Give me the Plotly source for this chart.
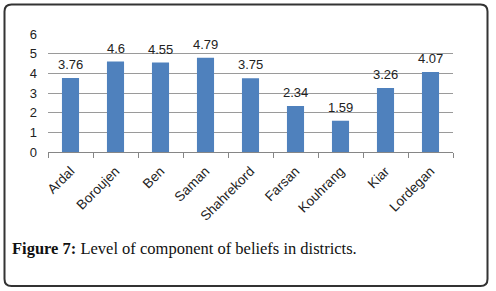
import plotly.graph_objects as go

districts = ["Ardal", "Boroujen", "Ben", "Saman", "Shahrekord", "Farsan", "Kouhrang", "Kiar", "Lordegan"]
values = [3.76, 4.6, 4.55, 4.79, 3.75, 2.34, 1.59, 3.26, 4.07]
labels = ["3.76", "4.6", "4.55", "4.79", "3.75", "2.34", "1.59", "3.26", "4.07"]

W, H = 496, 291
L, R, T, B = 48, 43, 34, 139
pw, ph = W - L - R, H - T - B

def px(x):
    return (x - L) / pw

def py(y):
    return 1 - (y - T) / ph

fig = go.Figure()
fig.add_trace(go.Bar(
    x=districts, y=values,
    marker=dict(color="#4F81BD", line=dict(width=0)),
    width=0.38,
    cliponaxis=False,
))

for d, v, t in zip(districts, values, labels):
    fig.add_annotation(x=d, y=v, text=t, showarrow=False, yanchor="bottom", yshift=4,
                       font=dict(family="Liberation Sans, Arial", size=13, color="#222"))

# rounded border
x0, x1, y0, y1, r = 4.5, 487.5, 4.5, 286, 7
path = (f"M {px(x0 + r)} {py(y0)} L {px(x1 - r)} {py(y0)} Q {px(x1)} {py(y0)} {px(x1)} {py(y0 + r)} "
        f"L {px(x1)} {py(y1 - r)} Q {px(x1)} {py(y1)} {px(x1 - r)} {py(y1)} "
        f"L {px(x0 + r)} {py(y1)} Q {px(x0)} {py(y1)} {px(x0)} {py(y1 - r)} "
        f"L {px(x0)} {py(y0 + r)} Q {px(x0)} {py(y0)} {px(x0 + r)} {py(y0)} Z")
fig.add_shape(type="path", path=path, xref="paper", yref="paper",
              line=dict(color="#333333", width=2), layer="above")

fig.add_annotation(
    text="<b>Figure 7:</b> Level of component of beliefs in districts.",
    xref="paper", yref="paper", x=px(11), y=py(248), xanchor="left", yanchor="middle",
    showarrow=False, borderpad=0,
    font=dict(family="Liberation Serif, Times New Roman", size=16.5, color="#111"),
)

fig.update_layout(
    width=W, height=H, margin=dict(l=L, r=R, t=T, b=B, autoexpand=False),
    paper_bgcolor="white", plot_bgcolor="white", showlegend=False,
    xaxis=dict(
        automargin=False,
        tickangle=-45, tickson="boundaries", ticks="outside", ticklen=5, tickcolor="#868686",
        showline=True, linecolor="#868686", linewidth=1, showgrid=False,
        ticklabelstandoff=5,
        tickfont=dict(family="Liberation Sans, Arial", size=13.5, color="#222"),
    ),
    yaxis=dict(
        automargin=False,
        range=[0, 6], dtick=1, showgrid=True, gridcolor="#9a9a9a", gridwidth=1,
        zeroline=False, showline=False, ticks="", ticklabelstandoff=10,
        tickfont=dict(family="Liberation Sans, Arial", size=13, color="#222"),
    ),
)

fig.write_html("out.html", config={"displayModeBar": False},
               post_script="document.body.style.margin='0';document.body.style.overflow='hidden';")
